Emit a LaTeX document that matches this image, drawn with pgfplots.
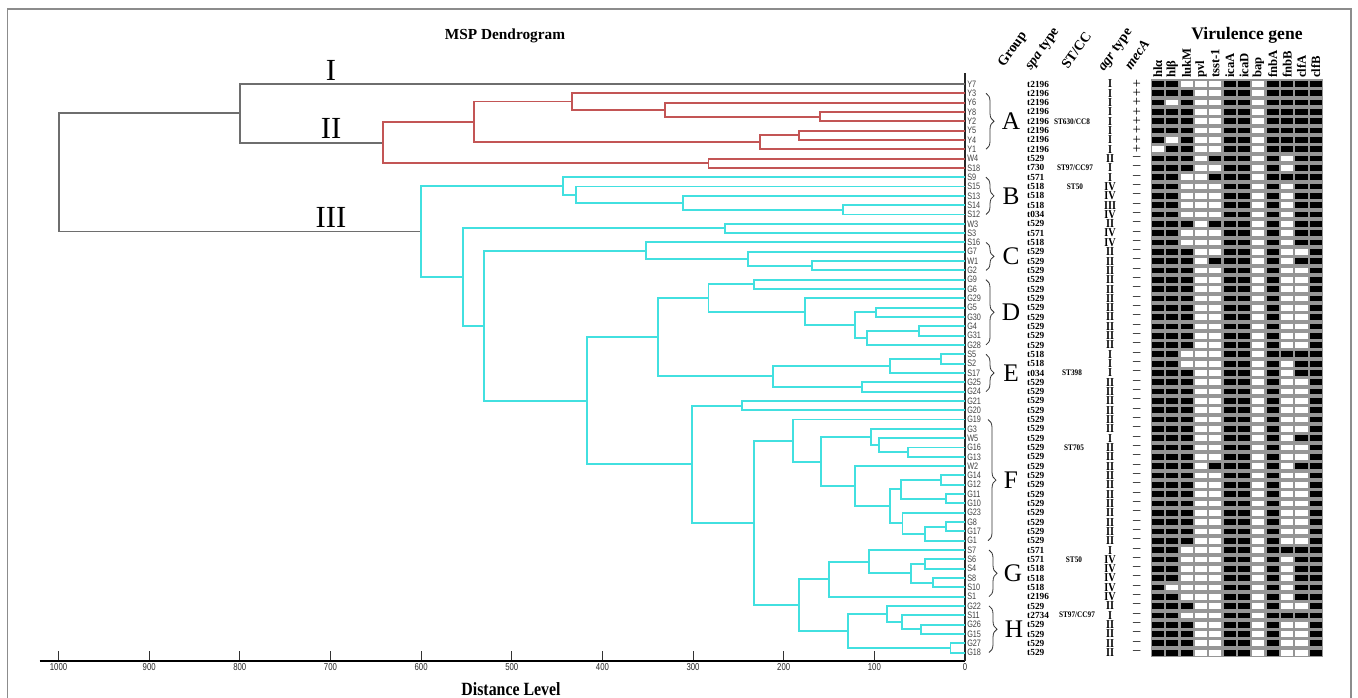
\documentclass[border=0pt]{standalone}
\usepackage{pgfplots}
\pgfplotsset{compat=1.18}
\usepackage{pgfplotstable}
\usepackage{fontspec}
\setmainfont{Liberation Serif}
\newfontfamily\lsans[FakeStretch=0.78]{Liberation Sans}
\newfontfamily\cond[FakeStretch=0.85]{Liberation Serif}
\usetikzlibrary{decorations.pathreplacing}
\definecolor{cy}{RGB}{66,224,224}
\definecolor{rd}{RGB}{195,85,85}
\definecolor{gr}{RGB}{110,110,110}
\definecolor{hg}{RGB}{150,150,150}

\pgfplotstableread{
leaf spa agr mec h1 h2 h3 h4 h5 h6 h7 h8 h9 h10 h11 h12
Y7 t2196 I + 1 1 0 0 0 1 1 0 1 1 1 1
Y3 t2196 I + 1 1 1 0 0 1 1 0 1 1 1 1
Y6 t2196 I + 1 0 1 0 0 1 1 0 1 1 1 1
Y8 t2196 I + 1 1 1 0 0 1 1 0 1 1 1 1
Y2 t2196 I + 1 1 1 0 0 1 1 0 1 1 1 1
Y5 t2196 I + 1 1 1 0 0 1 1 0 1 1 1 1
Y4 t2196 I + 1 0 1 0 0 1 1 0 1 1 1 1
Y1 t2196 I + 0 1 1 0 0 1 1 0 1 1 1 1
W4 t529 II -- 1 1 1 0 1 1 1 0 1 0 1 1
S18 t730 I -- 1 1 1 0 0 1 1 0 1 0 1 1
S9 t571 I -- 1 1 0 0 1 1 1 0 1 1 1 1
S15 t518 IV -- 1 1 0 0 0 1 1 0 1 0 1 1
S13 t518 IV -- 1 1 0 0 0 1 1 0 1 0 1 1
S14 t518 III -- 1 1 0 0 0 1 1 0 1 0 1 1
S12 t034 IV -- 1 1 0 0 0 1 1 0 1 0 1 1
W3 t529 II -- 1 1 1 0 1 1 1 0 1 0 1 1
S3 t571 IV -- 1 1 0 0 0 1 1 0 1 0 1 1
S16 t518 IV -- 1 1 0 0 0 1 1 0 1 0 1 1
G7 t529 II -- 1 1 1 0 0 1 1 0 1 0 0 1
W1 t529 II -- 1 1 1 0 1 1 1 0 1 0 1 1
G2 t529 II -- 1 1 1 0 0 1 1 0 1 0 0 1
G9 t529 II -- 1 1 1 0 0 1 1 0 1 0 0 1
G6 t529 II -- 1 1 1 0 0 1 1 0 1 0 0 1
G29 t529 II -- 1 1 1 0 0 1 1 0 1 0 0 1
G5 t529 II -- 1 1 1 0 0 1 1 0 1 0 0 1
G30 t529 II -- 1 1 1 0 0 1 1 0 1 0 0 1
G4 t529 II -- 1 1 1 0 0 1 1 0 1 0 0 1
G31 t529 II -- 1 1 1 0 0 1 1 0 1 0 0 1
G28 t529 II -- 1 1 1 0 0 1 1 0 1 0 0 1
S5 t518 I -- 1 1 0 0 0 1 1 0 1 1 1 1
S2 t518 I -- 1 1 0 0 0 1 1 0 1 0 1 1
S17 t034 I -- 1 1 1 0 0 1 1 0 1 0 1 1
G25 t529 II -- 1 1 1 0 0 1 1 0 1 0 0 1
G24 t529 II -- 1 1 1 0 0 1 1 0 1 0 0 1
G21 t529 II -- 1 1 1 0 0 1 1 0 1 0 0 1
G20 t529 II -- 1 1 1 0 0 1 1 0 1 0 0 1
G19 t529 II -- 1 1 1 0 0 1 1 0 1 0 0 1
G3 t529 II -- 1 1 1 0 0 1 1 0 1 0 0 1
W5 t529 I -- 1 1 1 0 0 1 1 0 1 0 1 1
G16 t529 II -- 1 1 1 0 0 1 1 0 1 0 0 1
G13 t529 II -- 1 1 1 0 0 1 1 0 1 0 0 1
W2 t529 II -- 1 1 1 0 1 1 1 0 1 0 1 1
G14 t529 II -- 1 1 1 0 0 1 1 0 1 0 0 1
G12 t529 II -- 1 1 1 0 0 1 1 0 1 0 0 1
G11 t529 II -- 1 1 1 0 0 1 1 0 1 0 0 1
G10 t529 II -- 1 1 1 0 0 1 1 0 1 0 0 1
G23 t529 II -- 1 1 1 0 0 1 1 0 1 0 0 1
G8 t529 II -- 1 1 1 0 0 1 1 0 1 0 0 1
G17 t529 II -- 1 1 1 0 0 1 1 0 1 0 0 1
G1 t529 II -- 1 1 1 0 0 1 1 0 1 0 0 1
S7 t571 I -- 1 1 0 0 0 1 1 0 1 1 1 1
S6 t571 IV -- 1 1 0 0 0 1 1 0 1 0 1 1
S4 t518 IV -- 1 1 0 0 0 1 1 0 1 0 1 1
S8 t518 IV -- 1 1 0 0 0 1 1 0 1 0 1 1
S10 t518 IV -- 1 0 0 0 0 1 1 0 1 0 1 1
S1 t2196 IV -- 1 1 0 0 0 1 1 0 1 0 1 1
G22 t529 II -- 1 1 1 0 0 1 1 0 1 0 0 1
S11 t2734 I -- 1 1 0 0 0 1 1 0 1 1 1 1
G26 t529 II -- 1 1 1 0 0 1 1 0 1 0 0 1
G15 t529 II -- 1 1 1 0 0 1 1 0 1 0 0 1
G27 t529 II -- 1 1 1 0 0 1 1 0 1 0 0 1
G18 t529 II -- 1 1 1 0 0 1 1 0 1 0 0 1
}\data

\pgfplotsset{dl/.style={line width=1.45pt, mark=none, line join=miter}}

\begin{document}
\begin{tikzpicture}
\begin{scope}[x=0.75pt,y=-0.75pt]
\useasboundingbox (0,0) rectangle (1358,697);
\draw[black!45, line width=1.1pt] (7.3,740) -- (7.3,9) -- (1351,9) -- (1351,740);
\node[font=\bfseries\fontsize{11.5}{12}\selectfont] at (505,36) {MSP Dendrogram};
\node[font=\cond\bfseries\fontsize{14}{14}\selectfont] at (511,689) {Distance Level};
\node[font=\fontsize{23}{23}\selectfont, inner sep=0] at (331,70.5) {I};
\node[font=\fontsize{23}{23}\selectfont, inner sep=0] at (331,128.5) {II};
\node[font=\fontsize{23}{23}\selectfont, inner sep=0] at (331,217.5) {III};
% group letters
\foreach \L/\xx/\yy in {A/1011/121.3, B/1011/195.8, C/1011/256.4, D/1011/312.3, E/1011/372.9, F/1011/480.1, G/1013/573.3, H/1014/629.2}
  {\node[font=\fontsize{19}{19}\selectfont, inner sep=0] at (\xx,\yy) {\L};}
% braces
\foreach \xx/\ya/\yb in {986/93.3/149.2, 986/177.2/214.5, 986/242.4/270.4, 986/279.7/344.9, 986/354.3/391.6, 988/419.5/540.7, 989/550.0/596.6, 989/605.9/652.5}
  {\draw[black!80, line width=0.6pt, decorate, decoration={brace, amplitude=6pt}] (\xx,\ya) -- (\xx,\yb);}
% ST/CC
\begin{scope}[every node/.style={font=\cond\bfseries\fontsize{6.4}{7}\selectfont, inner sep=0}]
\node at (1072,121.3) {ST630/CC8};
\node at (1075,167.9) {ST97/CC97};
\node at (1075,186.5) {ST50};
\node at (1072,373.0) {ST398};
\node at (1074,447.5) {ST705};
\node at (1074,559.3) {ST50};
\node at (1077,615.2) {ST97/CC97};
\end{scope}
% headers
\begin{scope}[every node/.style={font=\bfseries\fontsize{10.5}{11}\selectfont, rotate=55, anchor=base west, inner sep=0}]
\node at (1004,68) {Group};
\node at (1031,71) {\textit{spa} type};
\node at (1068,70) {ST/CC};
\node at (1104,72) {\textit{agr} type};
\node at (1131,71) {\textit{mecA}};
\end{scope}
\node[font=\bfseries\fontsize{13.2}{14}\selectfont] at (1247,35) {Virulence gene};
\end{scope}

\begin{axis}[
  at={(29.625pt,-495.75pt)}, anchor=south west,
  scale only axis, width=694.125pt, height=441pt,
  xmin=-1021, xmax=0, ymin=-62.91, ymax=0.18,
  axis x line*=bottom, axis y line*=right,
  x axis line style={line width=1.3pt, black},
  y axis line style={line width=0.9pt, black!85},
  xtick={-1000,-900,-800,-700,-600,-500,-400,-300,-200,-100,0},
  xticklabels={1000,900,800,700,600,500,400,300,200,100,0},
  tick align=inside, major tick length=7.5pt,
  xtick style={black!80, line width=0.6pt},
  xticklabel style={font=\lsans\fontsize{7.5}{8}\selectfont, text=black!85, inner sep=1pt, yshift=-1pt},
  ytick={-1,-2,...,-62},
  yticklabels from table={\data}{leaf},
  ytick style={draw=none},
  yticklabel style={font=\lsans\fontsize{7}{7}\selectfont, text=black!75, anchor=west, inner sep=1.5pt},
  clip=false,
]
% gray / root
\addplot[gr, dl] coordinates {(0,-1) (-800,-1) (-800,-7.28125) (-642,-7.28125)};
\addplot[gr, dl] coordinates {(-800,-4.140625) (-1000,-4.140625) (-1000,-16.8258) (-600,-16.8258)};
% red cluster
\addplot[rd, dl] coordinates {(0,-4) (-160,-4) (-160,-5) (0,-5)};
\addplot[rd, dl] coordinates {(0,-3) (-331,-3) (-331,-4.5) (-160,-4.5)};
\addplot[rd, dl] coordinates {(0,-2) (-434,-2) (-434,-3.75) (-331,-3.75)};
\addplot[rd, dl] coordinates {(0,-6) (-183,-6) (-183,-7) (0,-7)};
\addplot[rd, dl] coordinates {(-183,-6.5) (-226,-6.5) (-226,-8) (0,-8)};
\addplot[rd, dl] coordinates {(-434,-2.875) (-542,-2.875) (-542,-7.25) (-226,-7.25)};
\addplot[rd, dl] coordinates {(0,-9) (-283,-9) (-283,-10) (0,-10)};
\addplot[rd, dl] coordinates {(-542,-5.0625) (-642,-5.0625) (-642,-9.5) (-283,-9.5)};
% cyan cluster
\addplot[cy, dl] coordinates {(0,-14) (-135,-14) (-135,-15) (0,-15)};
\addplot[cy, dl] coordinates {(0,-13) (-311,-13) (-311,-14.5) (-135,-14.5)};
\addplot[cy, dl] coordinates {(0,-12) (-429,-12) (-429,-13.75) (-311,-13.75)};
\addplot[cy, dl] coordinates {(0,-11) (-443,-11) (-443,-12.875) (-429,-12.875)};
\addplot[cy, dl] coordinates {(0,-16) (-265,-16) (-265,-17) (0,-17)};
\addplot[cy, dl] coordinates {(0,-20) (-169,-20) (-169,-21) (0,-21)};
\addplot[cy, dl] coordinates {(0,-19) (-239,-19) (-239,-20.5) (-169,-20.5)};
\addplot[cy, dl] coordinates {(0,-18) (-352,-18) (-352,-19.75) (-239,-19.75)};
\addplot[cy, dl] coordinates {(0,-22) (-233,-22) (-233,-23) (0,-23)};
\addplot[cy, dl] coordinates {(0,-25) (-98.5,-25) (-98.5,-26) (0,-26)};
\addplot[cy, dl] coordinates {(0,-27) (-51,-27) (-51,-28) (0,-28)};
\addplot[cy, dl] coordinates {(-51,-27.5) (-108.5,-27.5) (-108.5,-29) (0,-29)};
\addplot[cy, dl] coordinates {(-98.5,-25.5) (-121,-25.5) (-121,-28.25) (-108.5,-28.25)};
\addplot[cy, dl] coordinates {(0,-24) (-176.5,-24) (-176.5,-26.875) (-121,-26.875)};
\addplot[cy, dl] coordinates {(-233,-22.5) (-283,-22.5) (-283,-25.4375) (-176.5,-25.4375)};
\addplot[cy, dl] coordinates {(0,-30) (-26,-30) (-26,-31) (0,-31)};
\addplot[cy, dl] coordinates {(-26,-30.5) (-83,-30.5) (-83,-32) (0,-32)};
\addplot[cy, dl] coordinates {(0,-33) (-114,-33) (-114,-34) (0,-34)};
\addplot[cy, dl] coordinates {(-83,-31.25) (-211.5,-31.25) (-211.5,-33.5) (-114,-33.5)};
\addplot[cy, dl] coordinates {(-283,-23.96875) (-339,-23.96875) (-339,-32.375) (-211.5,-32.375)};
\addplot[cy, dl] coordinates {(0,-35) (-246,-35) (-246,-36) (0,-36)};
\addplot[cy, dl] coordinates {(0,-40) (-62.5,-40) (-62.5,-41) (0,-41)};
\addplot[cy, dl] coordinates {(0,-39) (-94.5,-39) (-94.5,-40.5) (-62.5,-40.5)};
\addplot[cy, dl] coordinates {(0,-38) (-104,-38) (-104,-39.75) (-94.5,-39.75)};
\addplot[cy, dl] coordinates {(0,-43) (-26,-43) (-26,-44) (0,-44)};
\addplot[cy, dl] coordinates {(0,-45) (-21.3,-45) (-21.3,-46) (0,-46)};
\addplot[cy, dl] coordinates {(-26,-43.5) (-71,-43.5) (-71,-45.5) (-21.3,-45.5)};
\addplot[cy, dl] coordinates {(0,-48) (-21.3,-48) (-21.3,-49) (0,-49)};
\addplot[cy, dl] coordinates {(-21.3,-48.5) (-44,-48.5) (-44,-50) (0,-50)};
\addplot[cy, dl] coordinates {(0,-47) (-69,-47) (-69,-49.25) (-44,-49.25)};
\addplot[cy, dl] coordinates {(-71,-44.5) (-83,-44.5) (-83,-48.125) (-69,-48.125)};
\addplot[cy, dl] coordinates {(0,-42) (-121,-42) (-121,-46.3125) (-83,-46.3125)};
\addplot[cy, dl] coordinates {(-104,-38.875) (-158.5,-38.875) (-158.5,-44.15625) (-121,-44.15625)};
\addplot[cy, dl] coordinates {(0,-37) (-190,-37) (-190,-41.515625) (-158.5,-41.515625)};
\addplot[cy, dl] coordinates {(0,-52) (-44,-52) (-44,-53) (0,-53)};
\addplot[cy, dl] coordinates {(0,-54) (-35,-54) (-35,-55) (0,-55)};
\addplot[cy, dl] coordinates {(-44,-52.5) (-60,-52.5) (-60,-54.5) (-35,-54.5)};
\addplot[cy, dl] coordinates {(0,-51) (-105.6,-51) (-105.6,-53.5) (-60,-53.5)};
\addplot[cy, dl] coordinates {(-105.6,-52.25) (-150,-52.25) (-150,-56) (0,-56)};
\addplot[cy, dl] coordinates {(0,-59) (-49,-59) (-49,-60) (0,-60)};
\addplot[cy, dl] coordinates {(0,-58) (-69.5,-58) (-69.5,-59.5) (-49,-59.5)};
\addplot[cy, dl] coordinates {(0,-57) (-86,-57) (-86,-58.75) (-69.5,-58.75)};
\addplot[cy, dl] coordinates {(0,-61) (-16,-61) (-16,-62) (0,-62)};
\addplot[cy, dl] coordinates {(-86,-57.875) (-129,-57.875) (-129,-61.5) (-16,-61.5)};
\addplot[cy, dl] coordinates {(-150,-54.125) (-183,-54.125) (-183,-59.6875) (-129,-59.6875)};
\addplot[cy, dl] coordinates {(-190,-39.2578) (-233,-39.2578) (-233,-56.90625) (-183,-56.90625)};
\addplot[cy, dl] coordinates {(-246,-35.5) (-301,-35.5) (-301,-48.082) (-233,-48.082)};
\addplot[cy, dl] coordinates {(-339,-28.171875) (-417,-28.171875) (-417,-41.791) (-301,-41.791)};
\addplot[cy, dl] coordinates {(-352,-18.875) (-531,-18.875) (-531,-34.9814) (-417,-34.9814)};
\addplot[cy, dl] coordinates {(-265,-16.5) (-554,-16.5) (-554,-26.9282) (-531,-26.9282)};
\addplot[cy, dl] coordinates {(-443,-11.9375) (-600,-11.9375) (-600,-21.7141) (-554,-21.7141)};
\end{axis}

\begin{axis}[
  at={(863.03pt,-492.98pt)}, anchor=south west,
  scale only axis, width=129.2pt, height=433.5pt,
  xmin=0.5, xmax=12.5, ymin=-62.5, ymax=-0.5,
  axis background/.style={fill=hg},
  axis line style={draw=none},
  xtick={1,...,12},
  xticklabels={hlα,hlβ,lukM,pvl,tsst-1,icaA,icaD,bap,fnbA,fnbB,clfA,clfB},
  xticklabel pos=upper,
  xtick style={draw=none},
  xticklabel style={rotate=90, anchor=west, font=\bfseries\fontsize{9.5}{10}\selectfont, inner sep=1pt},
  ytick=\empty,
  clip=false,
]
\pgfplotsinvokeforeach{1,...,12}{
\addplot[only marks, mark=-, mark size=4.55pt,
  mark options={line width=4.3pt, draw=black, line cap=butt},
  restrict expr to domain={\thisrow{h#1}}{0.5:1.5}]
  table[x expr=#1, y expr=-\coordindex-1] {\data};
\addplot[only marks, mark=-, mark size=4.55pt,
  mark options={line width=4.3pt, draw=white, line cap=butt},
  restrict expr to domain={\thisrow{h#1}}{-0.5:0.5}]
  table[x expr=#1, y expr=-\coordindex-1] {\data};
}
\addplot[draw=none, mark=none, point meta=explicit symbolic,
  nodes near coords, nodes near coords align=west,
  every node near coord/.append style={font=\bfseries\fontsize{7}{7}\selectfont, inner sep=0}]
  table[x expr=-8.12, y expr=-\coordindex-1, meta=spa] {\data};
\addplot[draw=none, mark=none, point meta=explicit symbolic,
  nodes near coords, nodes near coords align=center,
  every node near coord/.append style={font=\cond\bfseries\fontsize{9}{9}\selectfont, inner sep=0}]
  table[x expr=-2.33, y expr=-\coordindex-1, meta=agr] {\data};
\addplot[draw=none, mark=none, point meta=explicit symbolic,
  nodes near coords, nodes near coords align=center,
  every node near coord/.append style={font=\fontsize{11}{11}\selectfont, inner sep=0}]
  table[x expr=-0.47, y expr=-\coordindex-1, meta=mec] {\data};
\end{axis}
\end{tikzpicture}
\end{document}
